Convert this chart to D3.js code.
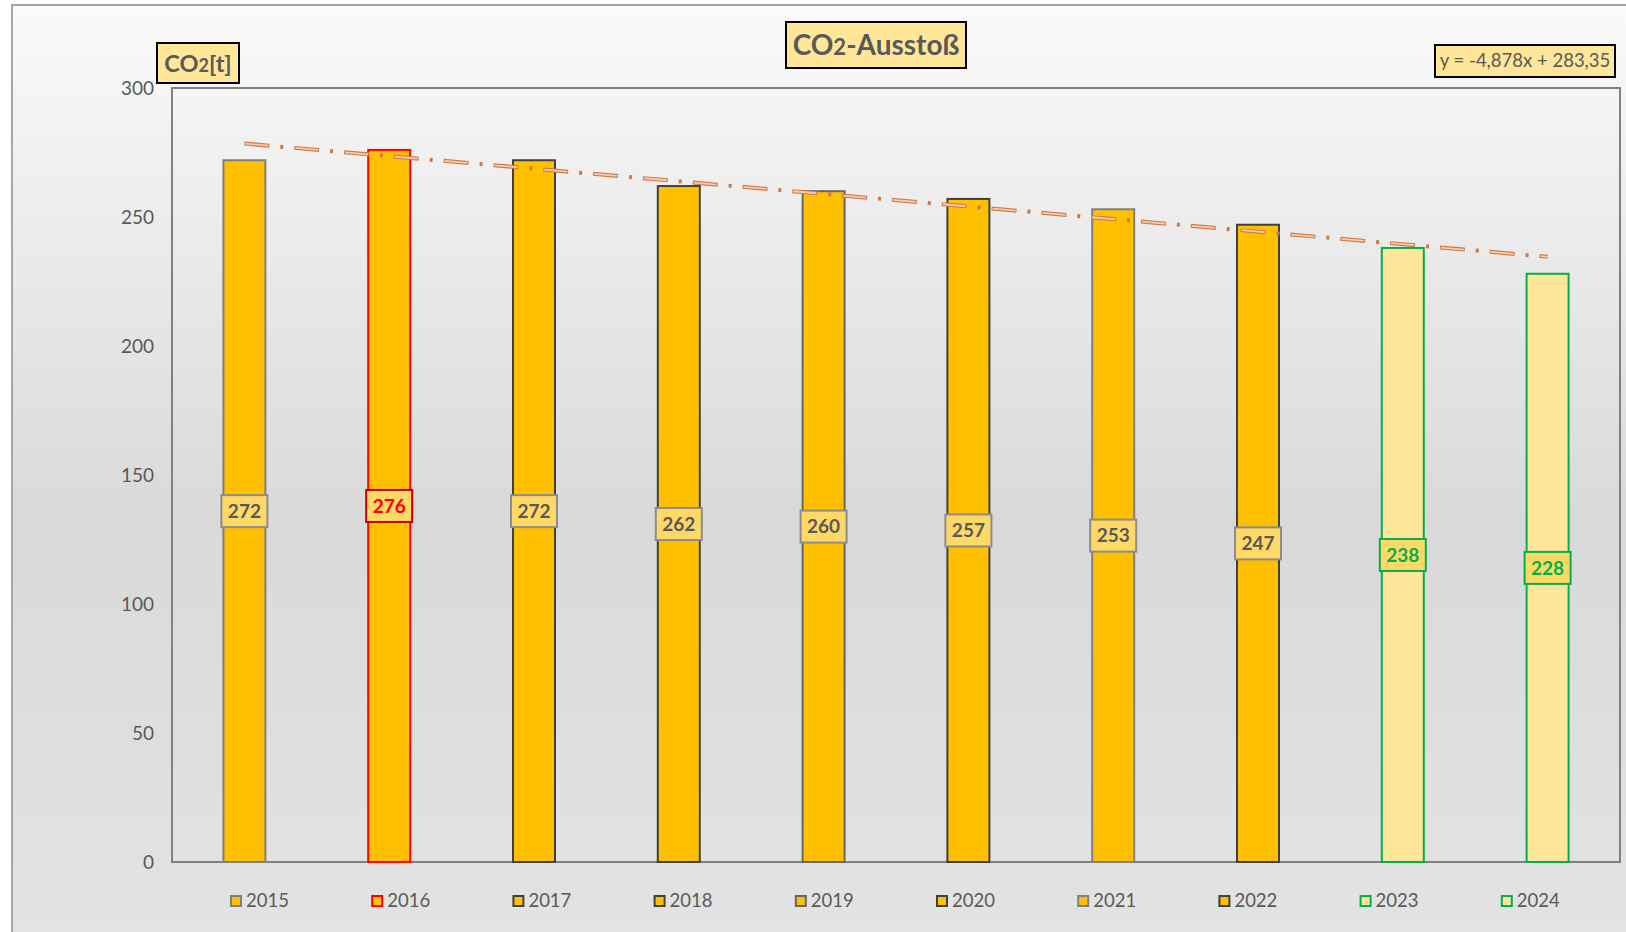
<!DOCTYPE html>
<html>
<head>
<meta charset="utf-8">
<script src="https://cdn.jsdelivr.net/npm/d3@7"></script>
<style>
  body { margin: 0; background: #fff; }
  svg { display: block; font-family: Lato, "Open Sans", sans-serif; }
</style>
</head>
<body>
<div id="chart"></div>
<script>
const years = ["2015", "2016", "2017", "2018", "2019", "2020", "2021", "2022", "2023", "2024"];
const values = [272, 276, 272, 262, 260, 257, 253, 247, 238, 228];
const barFills = ["#FFC000", "#FFC000", "#FFC000", "#FFC000", "#FFC000", "#FFC000", "#FFC000", "#FFC000", "#FFE699", "#FFE699"];
const barStrokes = ["#7f7f7f", "#FF0000", "#404040", "#404040", "#666666", "#404040", "#7f7f7f", "#404040", "#00B050", "#00B050"];
const labelColors = ["#595959", "#FF0000", "#595959", "#595959", "#595959", "#595959", "#595959", "#595959", "#00B050", "#00B050"];
const labelBorders = ["#8c8c8c", "#C00000", "#8c8c8c", "#8c8c8c", "#8c8c8c", "#8c8c8c", "#8c8c8c", "#8c8c8c", "#00B050", "#00B050"];
const yTicks = [0, 50, 100, 150, 200, 250, 300];
const trendSlope = -4.878, trendIntercept = 283.35;

const width = 1626, height = 932;
const plot = { left: 172, right: 1620, top: 88, bottom: 862 };

const svg = d3.select("#chart").append("svg")
    .attr("width", width)
    .attr("height", height);

// background gradient
const defs = svg.append("defs");
const grad = defs.append("linearGradient")
    .attr("id", "bg").attr("x1", 0).attr("y1", 0).attr("x2", 0).attr("y2", 1);
grad.append("stop").attr("offset", "0%").attr("stop-color", "#fafafa");
grad.append("stop").attr("offset", "55%").attr("stop-color", "#d9d9d9");
grad.append("stop").attr("offset", "100%").attr("stop-color", "#e3e3e3");

svg.append("rect")
    .attr("x", 12).attr("y", 5)
    .attr("width", width).attr("height", height)
    .attr("fill", "url(#bg)")
    .attr("stroke", "#a6a6a6").attr("stroke-width", 2);

const x = d3.scaleBand()
    .domain(years)
    .range([plot.left, plot.right])
    .paddingInner(0.71)
    .paddingOuter(0.355);

const y = d3.scaleLinear()
    .domain([0, 300])
    .range([plot.bottom, plot.top]);

// plot area frame
svg.append("rect")
    .attr("x", plot.left).attr("y", plot.top)
    .attr("width", plot.right - plot.left).attr("height", plot.bottom - plot.top)
    .attr("fill", "none")
    .attr("stroke", "#808080").attr("stroke-width", 2);

// y axis labels
svg.append("g")
    .selectAll("text")
    .data(yTicks)
    .join("text")
    .attr("x", 154)
    .attr("y", d => y(d))
    .attr("dy", "0.35em")
    .attr("text-anchor", "end")
    .attr("font-size", 19)
    .attr("fill", "#595959")
    .text(d => d);

// bars
svg.append("g")
    .selectAll("rect")
    .data(values)
    .join("rect")
    .attr("x", (d, i) => x(years[i]))
    .attr("y", d => y(d))
    .attr("width", x.bandwidth())
    .attr("height", d => y(0) - y(d))
    .attr("fill", (d, i) => barFills[i])
    .attr("stroke", (d, i) => barStrokes[i])
    .attr("stroke-width", 2);

// trend line (outlined dash-dot)
const trend = d3.line()
    .x((d, i) => x(d) + x.bandwidth() / 2)
    .y((d, i) => y(trendSlope * (i + 1) + trendIntercept));

svg.append("path")
    .datum(years)
    .attr("d", trend)
    .attr("fill", "none")
    .attr("stroke", "#cf7a45")
    .attr("stroke-width", 4)
    .attr("stroke-dasharray", "25 11 3 11");
svg.append("path")
    .datum(years)
    .attr("d", trend)
    .attr("fill", "none")
    .attr("stroke", "#f8cbad")
    .attr("stroke-width", 1.8)
    .attr("stroke-dasharray", "23 27")
    .attr("stroke-dashoffset", -1);

// value labels
const labels = svg.append("g")
    .selectAll("g")
    .data(values)
    .join("g")
    .attr("transform", (d, i) => `translate(${x(years[i]) + x.bandwidth() / 2},${y(d / 2)})`);

labels.append("rect")
    .attr("x", -23).attr("y", -16)
    .attr("width", 46).attr("height", 32)
    .attr("fill", "#FFD966")
    .attr("stroke", (d, i) => labelBorders[i])
    .attr("stroke-width", 2);

labels.append("text")
    .attr("text-anchor", "middle")
    .attr("dy", "0.36em")
    .attr("font-size", 19)
    .attr("font-weight", "bold")
    .attr("fill", (d, i) => labelColors[i])
    .text(d => d);

// legend
const legend = svg.append("g")
    .selectAll("g")
    .data(years)
    .join("g")
    .attr("transform", (d, i) => `translate(${230 + i * 141.2},901)`);

legend.append("rect")
    .attr("x", 1).attr("y", -5)
    .attr("width", 10).attr("height", 10)
    .attr("fill", (d, i) => barFills[i])
    .attr("stroke", (d, i) => barStrokes[i])
    .attr("stroke-width", 2);

legend.append("text")
    .attr("x", 16)
    .attr("dy", "0.35em")
    .attr("font-size", 18.5)
    .attr("fill", "#595959")
    .text(d => d);

// title box
const title = svg.append("g").attr("transform", "translate(876,45)");
title.append("rect")
    .attr("x", -90).attr("y", -23)
    .attr("width", 180).attr("height", 46)
    .attr("fill", "#FFE699")
    .attr("stroke", "#000").attr("stroke-width", 2);
const tt = title.append("text")
    .attr("text-anchor", "middle")
    .attr("dy", "0.36em")
    .attr("font-size", 28)
    .attr("font-weight", "bold")
    .attr("fill", "#595959");
tt.append("tspan").text("CO");
tt.append("tspan").attr("font-size", 22).text("2");
tt.append("tspan").text("-Ausstoß");

// axis title box
const yTitle = svg.append("g").attr("transform", "translate(198,63)");
yTitle.append("rect")
    .attr("x", -41).attr("y", -20)
    .attr("width", 82).attr("height", 40)
    .attr("fill", "#FFE699")
    .attr("stroke", "#000").attr("stroke-width", 2);
const yt = yTitle.append("text")
    .attr("text-anchor", "middle")
    .attr("dy", "0.4em")
    .attr("font-size", 23.5)
    .attr("font-weight", "bold")
    .attr("fill", "#595959");
yt.append("tspan").text("CO");
yt.append("tspan").attr("font-size", 18).text("2");
yt.append("tspan").text("[t]");

// trend equation box
const eq = svg.append("g").attr("transform", "translate(1525,61)");
eq.append("rect")
    .attr("x", -90).attr("y", -16)
    .attr("width", 180).attr("height", 32)
    .attr("fill", "#FFE699")
    .attr("stroke", "#000").attr("stroke-width", 2);
eq.append("text")
    .attr("text-anchor", "middle")
    .attr("dy", "0.35em")
    .attr("font-size", 18.5)
    .attr("fill", "#595959")
    .text("y = -4,878x + 283,35");
</script>
</body>
</html>
